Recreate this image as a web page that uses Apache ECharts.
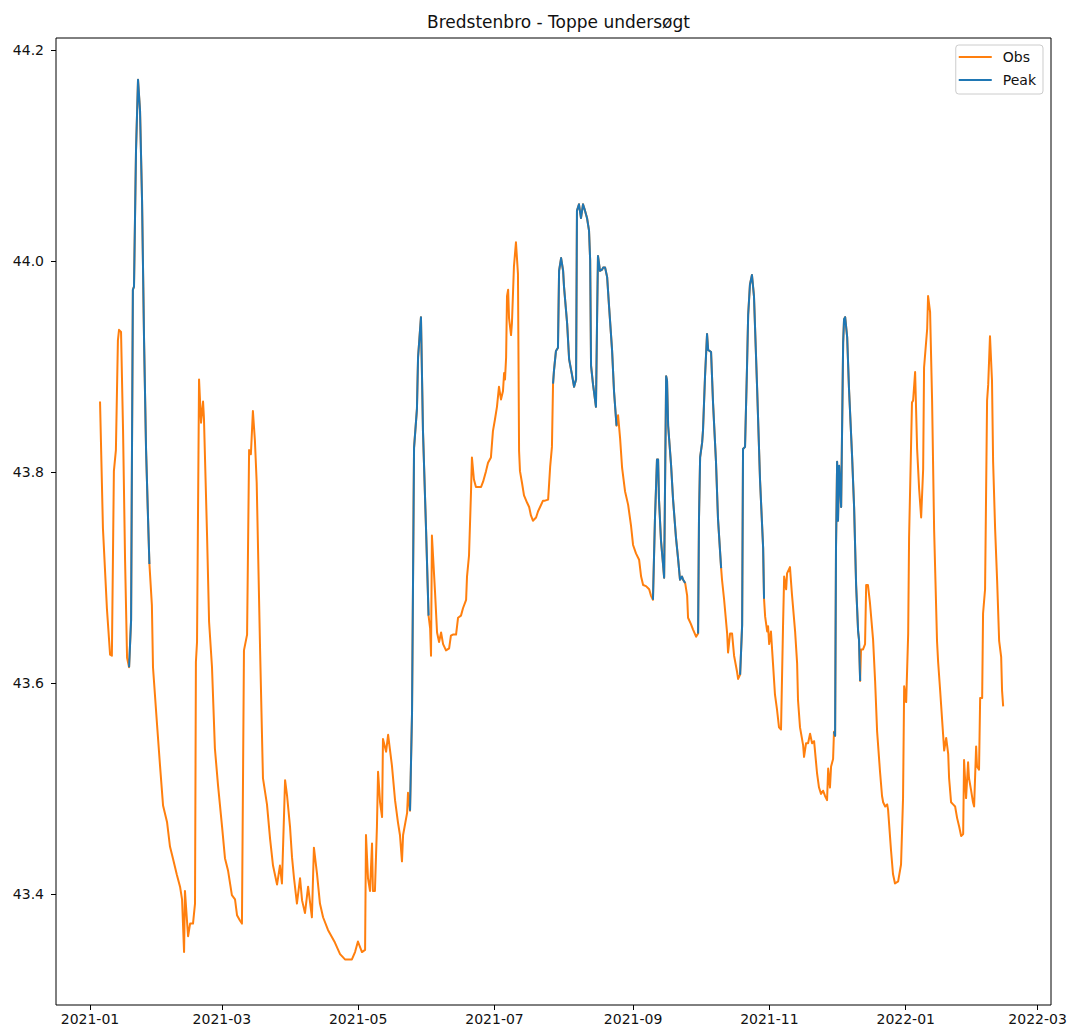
<!DOCTYPE html>
<html>
<head>
<meta charset="utf-8">
<title>Bredstenbro - Toppe undersøgt</title>
<script src="https://cdn.jsdelivr.net/npm/echarts@6/dist/echarts.min.js"></script>
<style>
  html, body { margin: 0; padding: 0; background: #ffffff; }
  #chart { width: 1071px; height: 1030px; }
</style>
</head>
<body>
<div id="chart"></div>
<script>
// Water level at Bredstenbro, days counted from 2021-01-01
const days = [
  4.5, 5.8, 7.6, 9.0, 9.8, 10.7, 11.6, 12.5, 13.0, 13.9, 14.8, 15.7, 16.6, 17.5, 18.4, 18.8, 19.2, 19.7, 20.6, 21.5,
  22.4, 23.3, 24.2, 25.1, 26.0, 26.6, 27.7, 28.2, 30.0, 31.3, 32.7, 34.5, 35.8, 37.1, 38.9, 40.3, 41.2, 42.1, 42.5, 43.4,
  43.9, 44.8, 46.1, 47.0, 47.4, 47.9, 48.8, 49.7, 50.6, 51.0, 52.4, 53.3, 54.6, 55.9, 57.3, 59.1, 60.4, 61.8, 63.5, 64.9,
  65.8, 67.1, 68.0, 68.9, 70.3, 71.2, 72.0, 72.9, 73.8, 74.6, 76.1, 77.4, 79.2, 80.6, 81.9, 83.7, 85.0, 85.9, 87.3, 88.2,
  89.5, 90.4, 91.3, 92.6, 94.0, 94.9, 96.2, 97.6, 99.3, 100.2, 101.6, 102.9, 104.3, 106.5, 109.6, 111.9, 114.1, 117.2, 118.6, 119.9,
  121.7, 123.1, 123.5, 124.4, 125.3, 126.2, 126.6, 127.5, 128.4, 128.9, 129.8, 130.7, 131.1, 132.5, 133.4, 135.1, 136.5, 137.8, 138.7, 139.6,
  140.1, 141.9, 142.3, 143.2, 144.1, 145.0, 146.3, 146.8, 148.1, 149.0, 150.4, 151.5, 152.2, 152.6, 153.0, 154.4, 155.3, 156.2, 157.1, 158.0,
  159.3, 160.7, 161.5, 162.4, 163.8, 164.7, 166.0, 166.9, 168.3, 168.7, 169.6, 170.5, 170.9, 171.8, 172.7, 173.6, 175.0, 175.9, 177.2, 178.1,
  179.4, 180.3, 181.2, 182.1, 183.0, 183.9, 184.8, 185.3, 185.7, 186.2, 186.6, 187.1, 187.5, 188.4, 188.8, 189.7, 190.6, 191.5, 192.0, 192.4,
  193.3, 194.2, 195.6, 196.5, 197.3, 198.2, 199.6, 200.5, 201.4, 202.7, 203.6, 205.0, 205.9, 206.7, 207.2, 207.6, 208.5, 209.4, 209.9, 210.8,
  211.7, 212.1, 213.5, 214.4, 215.7, 216.6, 217.5, 217.9, 218.8, 219.7, 220.6, 221.5, 222.4, 223.3, 223.8, 224.2, 225.1, 226.4, 226.9, 227.3,
  228.2, 229.1, 229.6, 230.5, 231.4, 232.3, 233.6, 234.5, 235.6, 236.3, 237.2, 238.1, 239.4, 240.8, 242.1, 243.0, 244.3, 245.7, 246.6, 247.5,
  248.8, 250.2, 251.0, 251.9, 252.8, 253.7, 254.2, 254.6, 255.5, 256.4, 256.9, 257.8, 258.2, 258.7, 260.0, 260.9, 262.2, 263.1, 264.0, 264.9,
  265.4, 266.3, 267.2, 267.6, 268.9, 269.8, 271.2, 272.1, 272.5, 273.0, 273.9, 274.3, 275.2, 276.1, 276.6, 277.9, 278.8, 280.1, 281.0, 282.4,
  282.8, 283.7, 285.1, 285.5, 286.4, 287.3, 288.2, 289.5, 290.0, 290.9, 291.8, 292.2, 293.1, 294.0, 294.5, 295.3, 296.2, 297.1, 298.5, 299.8,
  301.2, 301.6, 302.1, 303.0, 303.4, 303.9, 304.7, 305.6, 306.5, 307.4, 308.3, 309.2, 310.1, 310.6, 311.5, 311.9, 313.2, 314.1, 315.5, 316.4,
  316.8, 317.7, 319.1, 319.5, 320.4, 321.3, 322.2, 323.1, 324.0, 325.3, 326.2, 327.1, 328.0, 328.9, 329.8, 330.3, 331.1, 331.6, 332.5, 332.9,
  333.4, 333.8, 334.3, 334.7, 335.2, 336.1, 337.0, 337.4, 337.9, 338.8, 339.6, 341.0, 341.9, 342.8, 343.7, 344.1, 344.6, 345.0, 345.9, 346.8,
  347.3, 348.1, 349.0, 350.4, 351.3, 352.2, 353.5, 354.4, 354.9, 355.8, 356.7, 357.1, 358.4, 359.3, 360.2, 361.6, 362.9, 363.8, 364.3, 365.2,
  366.1, 366.5, 367.8, 368.3, 369.2, 370.1, 371.0, 371.9, 372.8, 373.2, 374.6, 375.0, 375.9, 376.8, 377.7, 379.0, 379.5, 380.4, 381.7, 382.2,
  383.1, 384.0, 384.4, 385.3, 386.2, 387.1, 388.0, 388.9, 389.8, 390.7, 391.1, 392.0, 392.9, 393.3, 394.2, 395.1, 395.6, 396.5, 396.9, 397.8,
  398.3, 399.2, 399.6, 400.5, 401.4, 401.9, 402.7, 403.6, 404.1, 405.0, 405.9, 406.8, 407.7, 408.1, 408.6
];

const levels = [
  43.867, 43.747, 43.670, 43.627, 43.626, 43.801, 43.821, 43.925, 43.935, 43.933, 43.840, 43.717, 43.624, 43.615, 43.660, 43.821, 43.973, 43.976, 44.105, 44.172,
  44.143, 44.058, 43.925, 43.821, 43.755, 43.713, 43.674, 43.615, 43.561, 43.523, 43.484, 43.468, 43.445, 43.434, 43.418, 43.407, 43.395, 43.345, 43.403, 43.375,
  43.360, 43.372, 43.372, 43.391, 43.620, 43.639, 43.888, 43.847, 43.867, 43.851, 43.739, 43.658, 43.615, 43.538, 43.503, 43.464, 43.434, 43.422, 43.399, 43.395,
  43.380, 43.375, 43.372, 43.631, 43.646, 43.821, 43.817, 43.858, 43.830, 43.790, 43.633, 43.510, 43.485, 43.452, 43.427, 43.409, 43.427, 43.410, 43.508, 43.493,
  43.464, 43.435, 43.415, 43.391, 43.415, 43.394, 43.382, 43.407, 43.378, 43.444, 43.419, 43.391, 43.378, 43.366, 43.354, 43.343, 43.338, 43.338, 43.345, 43.355,
  43.345, 43.347, 43.456, 43.415, 43.403, 43.448, 43.403, 43.403, 43.464, 43.516, 43.487, 43.473, 43.547, 43.535, 43.551, 43.522, 43.489, 43.468, 43.456, 43.431,
  43.456, 43.477, 43.496, 43.479, 43.572, 43.823, 43.860, 43.909, 43.947, 43.839, 43.744, 43.664, 43.652, 43.626, 43.740, 43.686, 43.648, 43.639, 43.648, 43.637,
  43.631, 43.633, 43.645, 43.646, 43.646, 43.662, 43.664, 43.671, 43.679, 43.701, 43.721, 43.782, 43.814, 43.793, 43.786, 43.786, 43.786, 43.791, 43.801, 43.809,
  43.814, 43.839, 43.850, 43.862, 43.881, 43.869, 43.877, 43.894, 43.888, 43.909, 43.967, 43.973, 43.946, 43.930, 43.941, 43.995, 44.018, 43.988, 43.820, 43.801,
  43.790, 43.778, 43.771, 43.767, 43.759, 43.754, 43.757, 43.763, 43.767, 43.773, 43.773, 43.774, 43.805, 43.824, 43.884, 43.896, 43.915, 43.918, 43.991, 44.003,
  43.991, 43.976, 43.941, 43.907, 43.892, 43.881, 43.888, 44.048, 44.054, 44.041, 44.054, 44.048, 44.041, 44.029, 44.001, 43.901, 43.883, 43.862, 43.945, 44.005,
  43.991, 43.992, 43.994, 43.994, 43.985, 43.956, 43.916, 43.876, 43.844, 43.854, 43.832, 43.804, 43.782, 43.769, 43.749, 43.731, 43.723, 43.717, 43.701, 43.693,
  43.692, 43.689, 43.683, 43.679, 43.756, 43.812, 43.812, 43.774, 43.735, 43.713, 43.700, 43.891, 43.887, 43.844, 43.807, 43.774, 43.738, 43.719, 43.698, 43.701,
  43.698, 43.695, 43.683, 43.662, 43.656, 43.651, 43.644, 43.647, 43.756, 43.814, 43.828, 43.840, 43.891, 43.931, 43.916, 43.914, 43.865, 43.810, 43.756, 43.709,
  43.698, 43.680, 43.647, 43.629, 43.647, 43.647, 43.626, 43.611, 43.604, 43.608, 43.655, 43.822, 43.824, 43.901, 43.949, 43.978, 43.987, 43.967, 43.880, 43.793,
  43.728, 43.680, 43.663, 43.649, 43.654, 43.637, 43.649, 43.619, 43.589, 43.575, 43.558, 43.556, 43.654, 43.701, 43.689, 43.704, 43.710, 43.684, 43.649, 43.619,
  43.584, 43.558, 43.541, 43.530, 43.543, 43.543, 43.552, 43.543, 43.545, 43.515, 43.501, 43.495, 43.498, 43.493, 43.489, 43.519, 43.501, 43.521, 43.528, 43.554,
  43.550, 43.728, 43.810, 43.754, 43.806, 43.767, 43.923, 43.945, 43.947, 43.928, 43.880, 43.815, 43.767, 43.693, 43.649, 43.641, 43.602, 43.632, 43.632, 43.637,
  43.693, 43.693, 43.676, 43.641, 43.602, 43.554, 43.516, 43.493, 43.487, 43.483, 43.485, 43.480, 43.442, 43.419, 43.410, 43.412, 43.428, 43.491, 43.597, 43.582,
  43.647, 43.738, 43.866, 43.868, 43.895, 43.822, 43.784, 43.757, 43.803, 43.899, 43.936, 43.967, 43.952, 43.868, 43.746, 43.640, 43.620, 43.593, 43.552, 43.536,
  43.548, 43.533, 43.510, 43.487, 43.485, 43.483, 43.472, 43.464, 43.455, 43.457, 43.527, 43.491, 43.525, 43.510, 43.499, 43.487, 43.483, 43.540, 43.521, 43.518,
  43.586, 43.586, 43.666, 43.689, 43.868, 43.883, 43.929, 43.887, 43.810, 43.746, 43.697, 43.640, 43.625, 43.593, 43.578
];

// Stretches examined as peaks, [first day, last day]
const peakWindows = [
  [17.5, 26.6], [143.2, 151.5], [207.2, 235.6], [251.9, 266.3],
  [272.1, 282.4], [290.9, 301.6], [332.9, 344.6]
];

const xTickLabels = ['2021-01', '2021-03', '2021-05', '2021-07', '2021-09', '2021-11', '2022-01', '2022-03'];
const yTicks = [43.4, 43.6, 43.8, 44.0, 44.2];

const DAY_MS = 86400000;
const origin = Date.UTC(2021, 0, 1);
const monthDay = s => (Date.UTC(+s.slice(0, 4), +s.slice(5, 7) - 1, 1) - origin) / DAY_MS;
const xTickDays = xTickLabels.map(monthDay);

const obsData = days.map((d, i) => [d, levels[i]]);
const inPeak = d => peakWindows.some(([a, b]) => d >= a && d <= b);
const peakData = days.map((d, i) => [d, inPeak(d) ? levels[i] : null]);

const FONT = 'DejaVu Sans';
const INK = '#111111';

const chart = echarts.init(document.getElementById('chart'), null, { renderer: 'svg' });

chart.setOption({
  animation: false,
  backgroundColor: '#ffffff',
  textStyle: { fontFamily: FONT },
  title: {
    text: 'Bredstenbro - Toppe undersøgt',
    left: 553.5,
    top: 8,
    textAlign: 'center',
    textStyle: { fontFamily: FONT, fontSize: 17, fontWeight: 'normal', color: INK }
  },
  legend: {
    data: ['Obs', 'Peak'],
    orient: 'vertical',
    right: 28,
    top: 45,
    icon: 'rect',
    itemWidth: 33,
    itemHeight: 2,
    itemGap: 7,
    padding: [4, 7, 6, 3],
    backgroundColor: 'rgba(255,255,255,0.8)',
    borderColor: '#cccccc',
    borderWidth: 1,
    borderRadius: 3,
    textStyle: { fontFamily: FONT, fontSize: 14, color: INK, lineHeight: 16, padding: [0, 0, 0, 6] }
  },
  grid: {
    left: 56,
    right: 20,
    top: 38,
    bottom: 25,
    show: true,
    borderColor: '#000000',
    borderWidth: 1,
    backgroundColor: 'transparent'
  },
  xAxis: {
    type: 'value',
    min: -15.2,
    max: 430.0,
    splitLine: { show: false },
    axisLine: { show: false, onZero: false },
    axisTick: {
      show: true,
      length: 5,
      customValues: xTickDays,
      lineStyle: { color: '#000000', width: 1 }
    },
    axisLabel: {
      customValues: xTickDays,
      margin: 7,
      fontFamily: FONT,
      fontSize: 14,
      color: INK,
      formatter: v => xTickLabels[xTickDays.indexOf(v)] ?? ''
    }
  },
  yAxis: {
    type: 'value',
    min: 43.2948,
    max: 44.2117,
    splitLine: { show: false },
    axisLine: { show: false, onZero: false },
    axisTick: {
      show: true,
      length: 5,
      customValues: yTicks,
      lineStyle: { color: '#000000', width: 1 }
    },
    axisLabel: {
      customValues: yTicks,
      margin: 12,
      fontFamily: FONT,
      fontSize: 14,
      color: INK,
      formatter: v => v.toFixed(1)
    }
  },
  series: [
    {
      name: 'Obs',
      type: 'line',
      data: obsData,
      showSymbol: false,
      color: '#ff7f0e',
      lineStyle: { color: '#ff7f0e', width: 2, join: 'round' }
    },
    {
      name: 'Peak',
      type: 'line',
      data: peakData,
      showSymbol: false,
      connectNulls: false,
      color: '#1f77b4',
      lineStyle: { color: '#1f77b4', width: 2, join: 'round' }
    }
  ]
});
</script>
</body>
</html>
